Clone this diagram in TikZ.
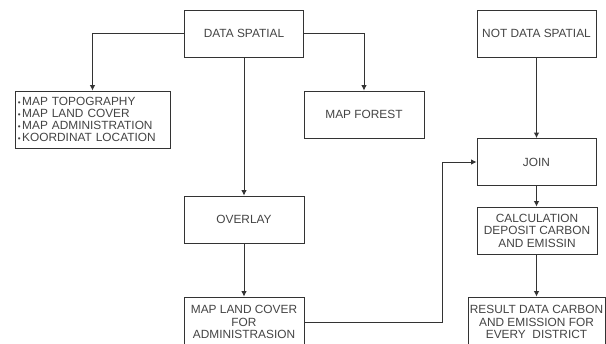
\documentclass[tikz,border=0pt]{standalone}
\usepackage{fontspec}
\setmainfont{Liberation Sans}
\usetikzlibrary{arrows.meta,positioning}
\definecolor{ln}{HTML}{333333}
\definecolor{tx}{HTML}{444444}
\newcommand{\bul}{{\fontsize{6}{6}\selectfont•}\hspace{1.2pt}}
\begin{document}
\begin{tikzpicture}[x=0.75pt,y=-0.75pt,
  box/.style={draw=ln,line width=0.65pt,rectangle,inner sep=1pt,align=center,text=tx,
     font=\fontsize{8.9}{9.4}\selectfont},
  arr/.style={draw=ln,line width=0.65pt,-{Latex[length=4pt,width=4pt]}}]
\useasboundingbox (0,0) rectangle (606,343);
\clip (0,0) rectangle (606,343);
\fill[white] (0,0) rectangle (606,343);
\node[box,minimum width=89.25pt,minimum height=35.25pt] (ds) at (244,33.5) {DATA SPATIAL};
\node[box,minimum width=116.25pt,minimum height=42.75pt,text width=112pt,align=left,inner xsep=1.2pt,
   font=\fontsize{8.9}{9}\selectfont] (list) at (92.5,119.5)
  {\bul MAP TOPOGRAPHY\\\bul MAP LAND COVER\\\bul MAP ADMINISTRATION\\\bul KOORDINAT LOCATION};
\node[box,minimum width=90pt,minimum height=35.25pt] (forest) at (364,114.5) {MAP FOREST};
\node[box,minimum width=89.25pt,minimum height=35.25pt] (nds) at (536.5,33.5) {NOT DATA SPATIAL};
\node[box,minimum width=89.25pt,minimum height=35.25pt] (join) at (536.5,162) {JOIN};
\node[box,minimum width=90pt,minimum height=35.25pt] (ov) at (244,219.5) {OVERLAY};
\node[box,minimum width=90pt,minimum height=37.5pt] (mlc) at (244,322) {MAP LAND COVER\\FOR\\ADMINISTRASION};
\node[box,minimum width=90pt,minimum height=35.25pt] (calc) at (537,230.5) {CALCULATION\\DEPOSIT CARBON\\AND EMISSIN};
\node[box,minimum width=102.75pt,minimum height=37.5pt] (res) at (536.5,322) {RESULT DATA CARBON\\AND EMISSION FOR\\EVERY\ \ DISTRICT};
\coordinate (bend) at (442,322);
\draw[arr] (ds.west) -| (list.north);
\draw[arr] (ds.east) -| (forest.north);
\draw[arr] (ds.south) -- (ov.north);
\draw[arr] (ov.south) -- (mlc.north);
\draw[arr] (nds.south) -- (join.north);
\draw[arr] (mlc.east) -- (bend) |- (join.west);
\draw[arr] (join.south) -- (calc.north -| join.south);
\draw[arr] (calc.south -| join.south) -- (res.north -| join.south);
\end{tikzpicture}
\end{document}
